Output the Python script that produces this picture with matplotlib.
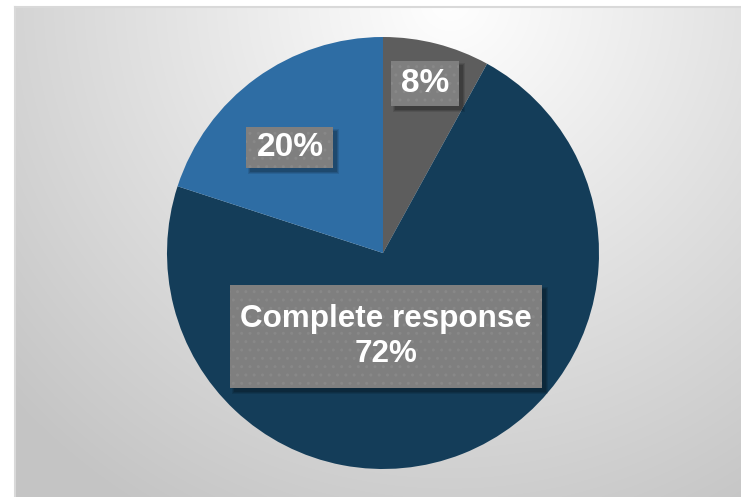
import numpy as np
import matplotlib
matplotlib.use("Agg")
import matplotlib.pyplot as plt
from matplotlib.patches import Rectangle
from matplotlib.transforms import IdentityTransform

categories = ["Other", "Complete response", "Partial response"]
values = [8, 72, 20]
show_name = [False, True, False]
colors = ["#5d5d5d", "#143d59", "#2e6da4"]

W, H = 741, 497
fig = plt.figure(figsize=(W / 100, H / 100), dpi=100)
fig.patch.set_facecolor("white")

# background panel with radial gradient
bx0, by0 = 15, 7
bg = fig.add_axes([bx0 / W, 0, 1 - bx0 / W, (H - by0) / H])
xs = np.arange(bx0, W)
ys = np.arange(by0, H)
X, Y = np.meshgrid(xs, ys)
d = np.sqrt((X - 450.0) ** 2 + (Y - 0.0) ** 2)
v = np.clip(255 - 59 * d / 600.0, 196, 255) / 255.0
img = np.dstack([v, v, v])
bg.imshow(img, aspect="auto", extent=[0, 1, 0, 1], origin="upper")
bg.set_axis_off()
fig.add_artist(plt.Line2D([bx0 / W, 1], [(H - by0) / H] * 2, color="#d9d9d9", lw=1.5))
fig.add_artist(plt.Line2D([bx0 / W] * 2, [0, (H - by0) / H], color="#d9d9d9", lw=1.5))

cx, cy, R = 383, 253, 216
ax = fig.add_axes([(cx - R) / W, (H - cy - R) / H, 2 * R / W, 2 * R / H])
wedges, _ = ax.pie(values, colors=colors, startangle=90, counterclock=False,
                   radius=1, wedgeprops=dict(linewidth=0))
ax.set_xlim(-1, 1)
ax.set_ylim(-1, 1)
ax.set_axis_off()

# label placement (angle in degrees, radius fraction) – layout only
label_pos = [(76.2, 0.81), (-88.0, 0.385), (131.5, 0.65)]
fsizes = [24, 22.6, 24]
vpads = [7, 19, 5]   # px beyond text extent
hpad = 10

texts = []
for cat, val, sn, (ang, r), fs in zip(categories, values, show_name, label_pos, fsizes):
    txt = f"{cat}\n{val}%" if sn else f"{val}%"
    x = r * np.cos(np.deg2rad(ang))
    y = r * np.sin(np.deg2rad(ang))
    t = ax.text(x, y, txt, ha="center", va="center", fontsize=fs, fontweight="bold",
                family="Liberation Sans", color="white", linespacing=1.22, zorder=10)
    texts.append(t)

plt.rcParams["hatch.linewidth"] = 1.0
fig.canvas.draw()
renderer = fig.canvas.get_renderer()
for t, vp in zip(texts, vpads):
    bb = t.get_window_extent(renderer)
    x0, y0 = bb.x0 - hpad, bb.y0 - vp
    w, h = bb.width + 2 * hpad, bb.height + 2 * vp
    for k, a in enumerate([0.10, 0.12, 0.14]):
        ax.add_patch(Rectangle((x0 + 4 - (2 - k), y0 - 4 - (2 - k)), w + 2 * (2 - k), h + 2 * (2 - k),
                               transform=IdentityTransform(), fc=(0, 0, 0, a),
                               ec="none", zorder=7, clip_on=False))
    ax.add_patch(Rectangle((x0, y0), w, h, transform=IdentityTransform(),
                           fc="#7f7f7f", ec="#888888", lw=0, hatch="..",
                           zorder=8, clip_on=False))

fig.savefig("out.png", dpi=100)
